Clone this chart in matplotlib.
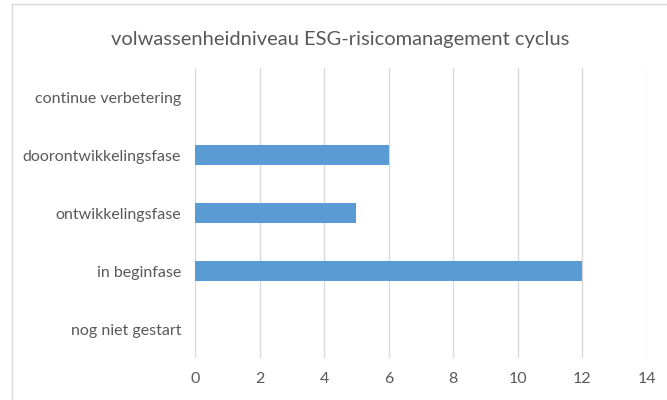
import matplotlib.pyplot as plt
from matplotlib.lines import Line2D

# data (bottom to top)
categories = ['nog niet gestart', 'in beginfase', 'ontwikkelingsfase',
              'doorontwikkelingsfase', 'continue verbetering']
values = [0, 12, 5, 6, 0]
xticks = [0, 2, 4, 6, 8, 10, 12, 14]

plt.rcParams['font.family'] = ['Lato', 'DejaVu Sans']

fig = plt.figure(figsize=(6.67, 4), dpi=100)
ax = fig.add_axes([0.2924, 0.105, 0.6776, 0.725])

ax.barh(range(len(categories)), values, height=0.34, color='#5B9BD5', zorder=3)
ax.set_xlim(0, 14)
ax.set_ylim(-0.5, len(categories) - 0.5)
ax.set_xticks(xticks)
ax.set_yticks(range(len(categories)))
ax.set_yticklabels(categories)
ax.grid(axis='x', color='#D9D9D9', linewidth=1, zorder=0)
for s in ax.spines.values():
    s.set_visible(False)
ax.tick_params(length=0, labelsize=11.5, colors='#595959', pad=10)
ax.tick_params(axis='x', pad=10)

fig.text(0.51, 0.9, 'volwassenheidniveau ESG-risicomanagement cyclus',
         ha='center', va='center', fontsize=14.5, color='#595959')

# chart border (left and top edges visible)
fig.add_artist(Line2D([12/667, 12/667], [0, 1 - 4/400], transform=fig.transFigure,
                      color='#D9D9D9', linewidth=1))
fig.add_artist(Line2D([12/667, 1], [1 - 4/400, 1 - 4/400], transform=fig.transFigure,
                      color='#D9D9D9', linewidth=1))

fig.savefig('out.png', dpi=100)
